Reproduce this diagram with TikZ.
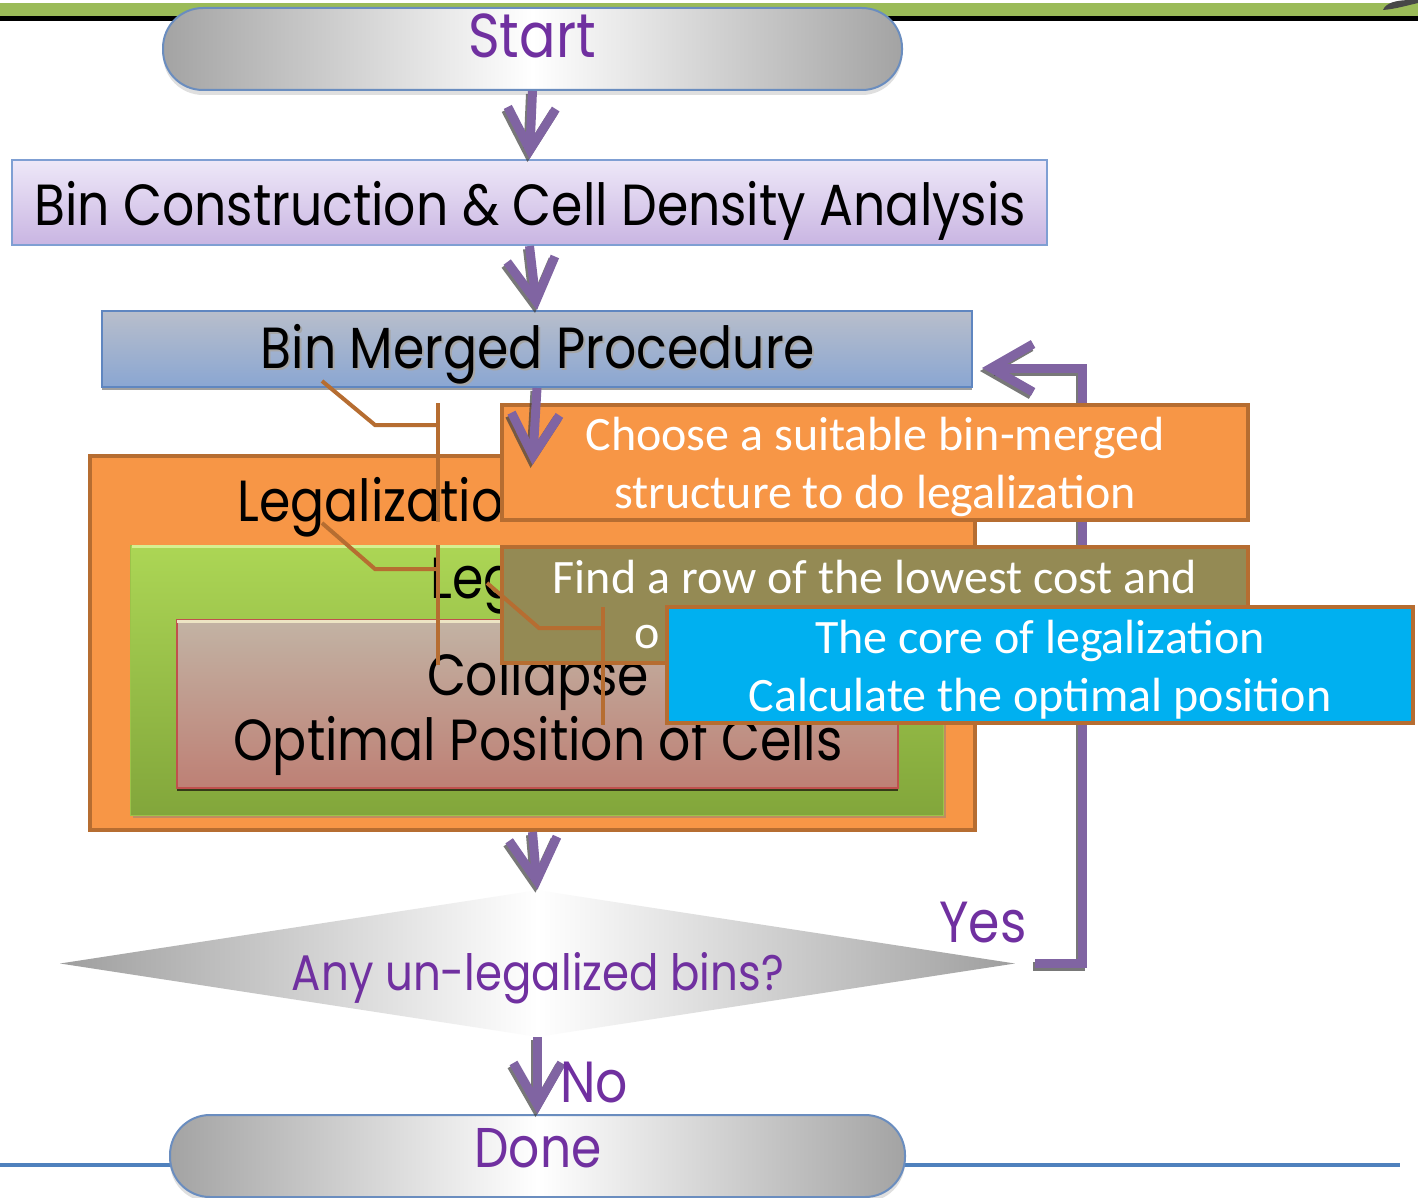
\documentclass[tikz,border=0pt]{standalone}
\usepackage{fontspec}
\usetikzlibrary{arrows.meta,shapes.geometric,shadows}
\newfontfamily\comicf{Poppins}[FakeStretch=0.87]
\newfontfamily\calibf{Carlito}

\definecolor{flowpurple}{HTML}{8064A2}
\definecolor{txtpurple}{HTML}{7030A0}
\definecolor{calloutedge}{HTML}{B66D31}
\definecolor{accorange}{HTML}{F79646}
\definecolor{calloutolive}{HTML}{948A54}
\definecolor{calloutblue}{HTML}{00B0F0}
\definecolor{termedge}{HTML}{6A8DBF}
\definecolor{boxedge}{HTML}{7F9FD3}
\definecolor{topgreen}{HTML}{9BBB59}
\definecolor{linkblue}{HTML}{4F81BD}
\definecolor{lavtop}{HTML}{EEE8F8}
\definecolor{lavbot}{HTML}{C9B5E2}
\definecolor{mergeedge}{HTML}{5F86C0}
\definecolor{mergetop}{HTML}{B8BECB}
\definecolor{mergebot}{HTML}{8AA6D2}
\definecolor{greenedge}{HTML}{9CC24A}
\definecolor{greentop}{HTML}{ACD655}
\definecolor{greenbot}{HTML}{82A63B}
\definecolor{greenhi}{HTML}{D6EF90}
\definecolor{coreedge}{HTML}{C0504D}
\definecolor{coretop}{HTML}{C2B3A4}
\definecolor{corebot}{HTML}{BE8075}
\definecolor{coreshade}{HTML}{2E2E14}
\definecolor{corehi}{HTML}{EDE4C4}

\begin{document}
\begin{tikzpicture}[x=0.5pt,y=-0.5pt,
  terminal/.style={draw=termedge, line width=1pt, rounded corners=20pt,
    left color=black!36, right color=black!36, middle color=white,
    minimum height=41pt, inner sep=0pt,
    drop shadow={shadow xshift=0pt, shadow yshift=-2.5pt, opacity=0.25}},
  comictext/.style={font=\comicf\fontsize{29}{34}\selectfont, anchor=base, inner sep=0pt},
  callouttext/.style={font=\calibf\fontsize{24}{29}\selectfont, text=white, anchor=base, inner sep=0pt},
  callout/.style={draw=calloutedge, line width=2pt, minimum width=373pt, inner sep=0pt},
  leader/.style={draw=calloutedge, line width=2pt},
  flow/.style={draw=flowpurple, line width=4.5pt, -{Straight Barb[length=21pt,width=24pt]}},
  flowshadow/.style={draw=black!75, opacity=0.7, line width=4.5pt,
    -{Straight Barb[length=21pt,width=24pt]}, transform canvas={shift={(-1pt,-1.5pt)}}}
]
\useasboundingbox (0,0) rectangle (1418,1198);
\fill[white] (0,0) rectangle (1418,1198);

% title bar of the slide
\fill[topgreen] (0,3) rectangle (1418,16);
\fill[black] (0,16) rectangle (1418,21);
\fill[black!72] (1383,10) .. controls (1386,3) and (1395,0) .. (1412,0) -- (1418,0) -- (1418,3)
  .. controls (1405,6) and (1395,9) .. (1383,10) -- cycle;

% footer rule
\draw[linkblue, line width=1.75pt] (0,1165) -- (1400,1165);

% ---- flow shapes ----
\node[terminal, minimum width=369.5pt] (start) at (532.5,49) {};
\node[comictext, text=txtpurple, font=\comicf\fontsize{31}{36}\selectfont] (starttxt) at (532,58) {Start};

\node[draw=boxedge, line width=1pt, top color=lavtop, bottom color=lavbot,
  minimum width=517.5pt, minimum height=42.5pt, inner sep=0pt] (binc) at (529.5,202.5) {};
\node[comictext] (binctxt) at (530,226) {Bin Construction \& Cell Density Analysis};

\node[draw=mergeedge, line width=1pt, top color=mergetop, bottom color=mergebot,
  minimum width=435pt, minimum height=38pt, inner sep=0pt,
  drop shadow={shadow xshift=0pt, shadow yshift=-1.6pt, opacity=0.75}] (merge) at (537,349) {};
\node[comictext, text=black!35] (mergeshd) at (540,370) {Bin Merged Procedure};
\node[comictext] (mergetxt) at (538,368) {Bin Merged Procedure};

% legalization stage and its nested boxes
\node[draw=calloutedge, line width=2pt, fill=accorange,
  minimum width=442.5pt, minimum height=187pt, inner sep=0pt] (legal) at (532.5,643) {};
\node[comictext, anchor=base west] (legaltxt) at (237,521) {Legalization};

\node[draw=greenedge, line width=0.5pt, top color=greentop, bottom color=greenbot,
  minimum width=406.5pt, minimum height=135pt, inner sep=0pt,
  drop shadow={shadow xshift=1.5pt, shadow yshift=-1.5pt, opacity=0.45}] (inner) at (536.5,680) {};
\draw[greenhi, line width=1.5pt] ([shift={(1pt,-1pt)}]inner.north west) -- ([shift={(-1pt,-1pt)}]inner.north east);
\node[comictext, anchor=base west] (innertxt) at (430,598) {Legalization};

\node[draw=coreedge, line width=0.8pt, top color=coretop, bottom color=corebot,
  minimum width=360.5pt, minimum height=84pt, inner sep=0pt,
  drop shadow={shadow xshift=0pt, shadow yshift=-1.6pt, opacity=0.9, fill=coreshade}] (core) at (537.5,704) {};
\draw[corehi, line width=1.5pt] ([shift={(0.6pt,-1.2pt)}]core.north west) -- ([shift={(-0.6pt,-1.2pt)}]core.north east);
\node[comictext] (coretxt1) at (538,695) {Collapse};
\node[comictext] (coretxt2) at (538,760) {Optimal Position of Cells};

% decision
\node[shape=diamond, aspect=6.5, minimum width=477.5pt, minimum height=73.5pt, inner sep=0pt,
  left color=black!38, right color=black!38, middle color=white] (ask) at (537.5,963.5) {};
\node[comictext, text=txtpurple, font=\comicf\fontsize{25}{30}\selectfont] (asktxt) at (538,990) {Any un-legalized bins?};

\node[terminal, minimum width=367.5pt] (done) at (537.5,1156) {};
\node[comictext, text=txtpurple, font=\comicf\fontsize{28}{33}\selectfont] (donetxt) at (538,1167) {Done};

% ---- connectors ----
\coordinate (yesout) at (1035,963);
\coordinate (loopin) at (982,368);
\draw[flowshadow] (start.south) -- (binc.north);
\draw[flow] (start.south) -- (binc.north);
\draw[flowshadow] (binc.south) -- (merge.north);
\draw[flow] (binc.south) -- (merge.north);
\draw[flowshadow] (legal.south) -- (ask.north);
\draw[flow] (legal.south) -- (ask.north);
\draw[flowshadow] (ask.south) -- (done.north);
\draw[flow] (ask.south) -- (done.north);
\draw[flowshadow] (yesout) -- ++(47,0) |- (loopin);
\draw[flow] (yesout) -- ++(47,0) |- (loopin);

\node[comictext, text=txtpurple] (yestxt) at (983,942) {Yes};
\node[comictext, text=txtpurple] (notxt) at (594,1102) {No};

% ---- callouts ----
\coordinate (c1tip) at (322,381);
\draw[leader] (c1tip) -- ++(53,44) -- ++(63,0);
\draw[leader] (438,403) -- (438,522);
\node[callout, fill=accorange, minimum height=57.5pt] (choose) at (875,462.5) {};
\node[callouttext] (choose1) at (875,450) {Choose a suitable bin-merged};
\node[callouttext] (choose2) at (875,508) {structure to do legalization};

\coordinate (c2tip) at (322,523);
\draw[leader] (c2tip) -- ++(53,46) -- ++(63,0);
\draw[leader] (438,545) -- (438,665);
\node[callout, fill=calloutolive, minimum height=58pt] (findrow) at (875,605) {};
\node[callouttext] (find1) at (875,593) {Find a row of the lowest cost and};
\node[callouttext] (find2) at (647,648) {o};

\coordinate (c3tip) at (487,583);
\draw[leader] (c3tip) -- ++(52,45) -- ++(64,0);
\draw[leader] (603,607) -- (603,725);
\node[callout, fill=calloutblue, minimum height=58pt] (corenote) at (1040,665) {};
\node[callouttext] (corenote1) at (1040,653) {The core of legalization};
\node[callouttext] (corenote2) at (1040,711) {Calculate the optimal position};

% flow into the legalization stage, drawn over the callout
\draw[flowshadow] (merge.south) -- ([yshift=-5.5pt]legal.north);
\draw[flow] (merge.south) -- ([yshift=-5.5pt]legal.north);
\end{tikzpicture}
\end{document}
